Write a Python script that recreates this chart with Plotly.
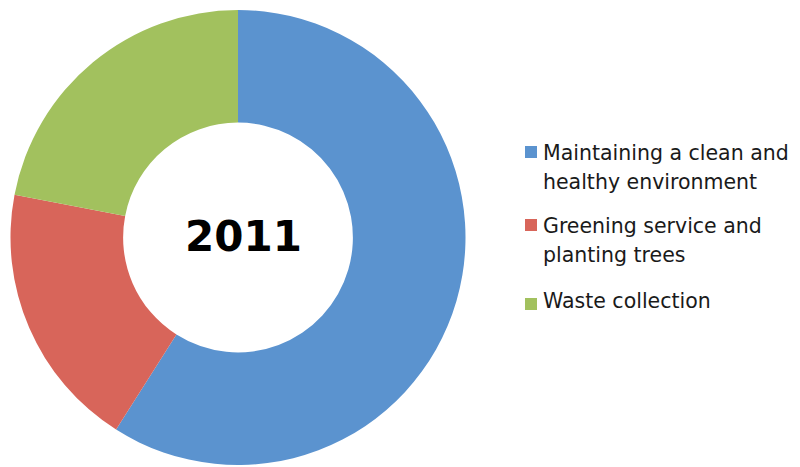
import plotly.graph_objects as go

labels = ["Maintaining a clean and<br>healthy environment",
          "Greening service and<br>planting trees",
          "Waste collection"]
values = [59, 19, 22]
colors = ["#5B93CF", "#D8655A", "#A2C15E"]
center_label = "2011"

OFF = 8  # page body margin of the browser
W, H = 800 - OFF, 467 - OFF


def px(x):
    return (x - OFF) / W


def py(y):
    return 1 - (y - OFF) / H


fig = go.Figure(go.Pie(
    labels=[l.replace("<br>", " ") for l in labels], values=values,
    sort=False, direction="clockwise",
    rotation=0, hole=0.505, textinfo="none", hoverinfo="label+percent",
    marker=dict(colors=colors, line=dict(width=0)),
    domain=dict(x=[px(9), px(467)], y=[py(465), py(10)]),
    showlegend=False,
))
fig.add_annotation(text="<b>" + center_label + "</b>", x=px(244), y=py(236),
                   xref="paper", yref="paper", showarrow=False,
                   xanchor="center", yanchor="middle",
                   font=dict(family="DejaVu Sans", size=42, color="#000000"))

# legend drawn as colour squares + text lines
sq_top = [146, 219, 298]
baselines = [[160, 189], [233, 262], [308]]
for lab, col, top, bls in zip(labels, colors, sq_top, baselines):
    fig.add_shape(type="rect", xref="paper", yref="paper",
                  x0=px(525), x1=px(537), y0=py(top), y1=py(top + 12),
                  fillcolor=col, line=dict(width=0))
    for line, bl in zip(lab.split("<br>"), bls):
        fig.add_annotation(text=line, x=px(541), y=py(bl - 7),
                           xref="paper", yref="paper", showarrow=False,
                           xanchor="left", yanchor="middle",
                           font=dict(family="DejaVu Sans", size=20.5, color="#1a1a1a"))

fig.update_layout(
    width=W, height=H, margin=dict(l=0, r=0, t=0, b=0),
    paper_bgcolor="white", plot_bgcolor="white",
)
fig.write_html("out.html")
